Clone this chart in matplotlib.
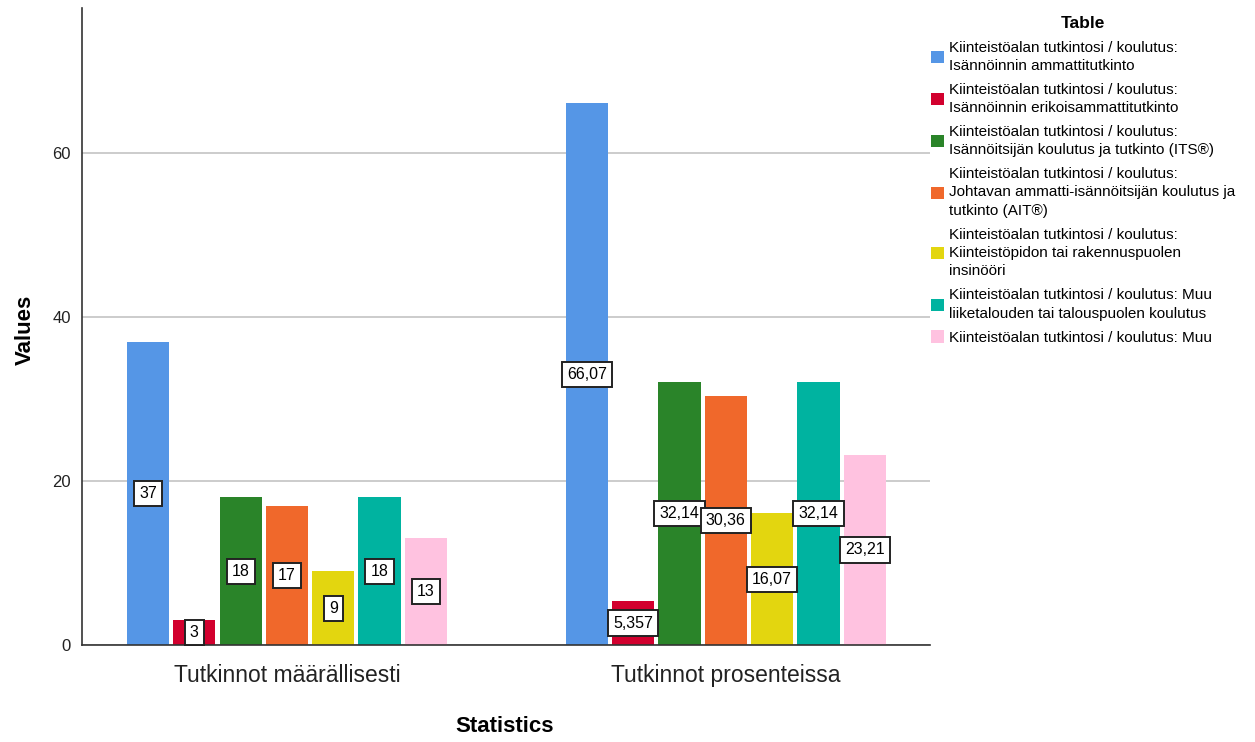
import matplotlib
matplotlib.use("Agg")
import matplotlib.pyplot as plt
from matplotlib.patches import Patch
import numpy as np

plt.rcParams['font.family'] = ['Liberation Sans', 'DejaVu Sans']

categories = ["Tutkinnot määrällisesti", "Tutkinnot prosenteissa"]
series_labels = [
    "Kiinteistöalan tutkintosi / koulutus:\nIsännöinnin ammattitutkinto",
    "Kiinteistöalan tutkintosi / koulutus:\nIsännöinnin erikoisammattitutkinto",
    "Kiinteistöalan tutkintosi / koulutus:\nIsännöitsijän koulutus ja tutkinto (ITS®)",
    "Kiinteistöalan tutkintosi / koulutus:\nJohtavan ammatti-isännöitsijän koulutus ja\ntutkinto (AIT®)",
    "Kiinteistöalan tutkintosi / koulutus:\nKiinteistöpidon tai rakennuspuolen\ninsinööri",
    "Kiinteistöalan tutkintosi / koulutus: Muu\nliiketalouden tai talouspuolen koulutus",
    "Kiinteistöalan tutkintosi / koulutus: Muu",
]
counts = [37, 3, 18, 17, 9, 18, 13]
percents = [66.07, 5.357, 32.14, 30.36, 16.07, 32.14, 23.21]
count_labels = ["37", "3", "18", "17", "9", "18", "13"]
percent_labels = ["66,07", "5,357", "32,14", "30,36", "16,07", "32,14", "23,21"]
colors = ["#5596E6", "#D2002E", "#2A8429", "#F0682B", "#E3D60F", "#00B3A0", "#FFC2E0"]

values = np.array([counts, percents])      # rows: categories, cols: series
labels = [count_labels, percent_labels]

fig = plt.figure(figsize=(12.55, 7.42), dpi=100)
ax = fig.add_axes([0.0653, 0.1307, 0.6757, 0.8583])

n = len(series_labels)
pitch = 0.1055
width = 0.096
x = np.arange(len(categories))

for j in range(n):
    xs = x + (j - (n - 1) / 2) * pitch
    ax.bar(xs, values[:, j], width=width, color=colors[j], zorder=2)
    for i in range(len(categories)):
        ax.text(xs[i], values[i, j] / 2, labels[i][j], ha="center", va="center",
                fontsize=11.5, zorder=4,
                bbox=dict(boxstyle="square,pad=0.32", fc="white", ec="#222222", lw=1.4))

ax.set_xlim(-0.467, 1.465)
ax.set_ylim(0, 77.7)
ax.set_yticks([0, 20, 40, 60])
ax.yaxis.grid(True, color="#C8C8C8", lw=1.3, zorder=0)
ax.set_axisbelow(True)
ax.set_xticks(x)
ax.set_xticklabels(categories, fontsize=16.5, color="#222222")
ax.tick_params(axis="x", length=0, pad=14)
ax.tick_params(axis="y", length=0, labelsize=12, colors="#222222", pad=8)
for s in ["top", "right"]:
    ax.spines[s].set_visible(False)
for s in ["left", "bottom"]:
    ax.spines[s].set_color("#333333")
    ax.spines[s].set_linewidth(1.2)

fig.text(25 / 1255, 1 - 330 / 742, "Values", rotation=90, ha="center", va="center",
         fontsize=16, fontweight="bold")
fig.text(505 / 1255, 1 - 727 / 742, "Statistics", ha="center", va="center",
         fontsize=16, fontweight="bold")

handles = [Patch(facecolor=c, edgecolor="none") for c in colors]
leg = fig.legend(handles, series_labels, loc="upper left", bbox_to_anchor=(0.737, 0.987),
                 frameon=False, fontsize=11, title="Table",
                 title_fontproperties={"weight": "bold", "size": 12.5},
                 handlelength=0.85, handleheight=0.85, handletextpad=0.3,
                 labelspacing=0.64, borderaxespad=0.0)
for t in leg.get_texts():
    t.set_linespacing(1.4)
leg._legend_box.align = "center"

fig.savefig("out.png", dpi=100)
